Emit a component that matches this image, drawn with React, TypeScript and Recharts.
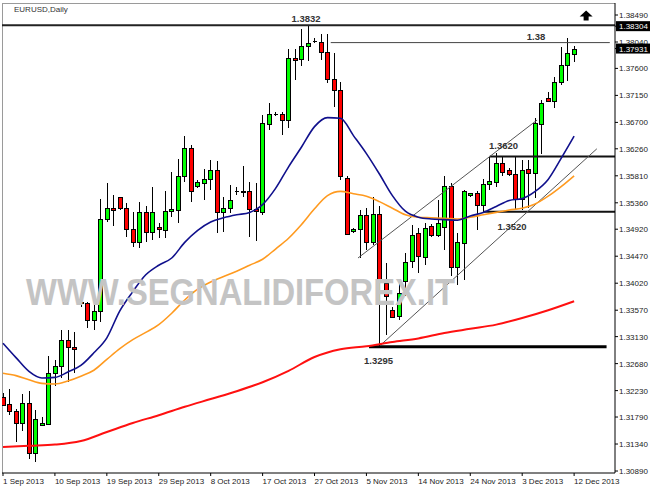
import {
  Bar,
  ComposedChart,
  Line,
  ReferenceDot,
  ReferenceLine,
  XAxis,
  YAxis,
} from 'recharts';

// daily bars, Sunday sessions included (MT4 style)
const dates = [
  '1 Sep 2013', '2 Sep 2013', '3 Sep 2013', '4 Sep 2013', '5 Sep 2013', '6 Sep 2013', '8 Sep 2013', '9 Sep 2013',
  '10 Sep 2013', '11 Sep 2013', '12 Sep 2013', '13 Sep 2013', '15 Sep 2013', '16 Sep 2013', '17 Sep 2013', '18 Sep 2013',
  '19 Sep 2013', '20 Sep 2013', '22 Sep 2013', '23 Sep 2013', '24 Sep 2013', '25 Sep 2013', '26 Sep 2013', '27 Sep 2013',
  '29 Sep 2013', '30 Sep 2013', '1 Oct 2013', '2 Oct 2013', '3 Oct 2013', '4 Oct 2013', '6 Oct 2013', '7 Oct 2013',
  '8 Oct 2013', '9 Oct 2013', '10 Oct 2013', '11 Oct 2013', '13 Oct 2013', '14 Oct 2013', '15 Oct 2013', '16 Oct 2013',
  '17 Oct 2013', '18 Oct 2013', '20 Oct 2013', '21 Oct 2013', '22 Oct 2013', '23 Oct 2013', '24 Oct 2013', '25 Oct 2013',
  '27 Oct 2013', '28 Oct 2013', '29 Oct 2013', '30 Oct 2013', '31 Oct 2013', '1 Nov 2013', '3 Nov 2013', '4 Nov 2013',
  '5 Nov 2013', '6 Nov 2013', '7 Nov 2013', '8 Nov 2013', '10 Nov 2013', '11 Nov 2013', '12 Nov 2013', '13 Nov 2013',
  '14 Nov 2013', '15 Nov 2013', '17 Nov 2013', '18 Nov 2013', '19 Nov 2013', '20 Nov 2013', '21 Nov 2013', '22 Nov 2013',
  '24 Nov 2013', '25 Nov 2013', '26 Nov 2013', '27 Nov 2013', '28 Nov 2013', '29 Nov 2013', '1 Dec 2013', '2 Dec 2013',
  '3 Dec 2013', '4 Dec 2013', '5 Dec 2013', '6 Dec 2013', '8 Dec 2013', '9 Dec 2013', '10 Dec 2013', '11 Dec 2013',
  '12 Dec 2013',
];

const open = [
  1.3213, 1.32, 1.3189, 1.3169, 1.3203, 1.312, 1.3166, 1.3167, 1.3252, 1.3264,
  1.3307, 1.3296, 1.3369, 1.3369, 1.3341, 1.3356, 1.3509, 1.3528, 1.3545, 1.3527,
  1.3492, 1.3471, 1.3521, 1.3487, 1.3495, 1.3491, 1.3521, 1.3524, 1.358, 1.3627,
  1.3563, 1.357, 1.3576, 1.3591, 1.352, 1.3527, 1.3556, 1.3556, 1.3555, 1.3525,
  1.3521, 1.3667, 1.3684, 1.3684, 1.3674, 1.3778, 1.3776, 1.3798, 1.3806, 1.3804,
  1.3787, 1.3742, 1.3724, 1.3578, 1.3488, 1.3492, 1.3516, 1.3471, 1.3517, 1.3402,
  1.3357, 1.3346, 1.3407, 1.3438, 1.3485, 1.3446, 1.3497, 1.3482, 1.3495, 1.3564,
  1.3429, 1.347, 1.3548, 1.3552, 1.3532, 1.3567, 1.3572, 1.3603, 1.3591, 1.3584,
  1.3542, 1.3592, 1.3585, 1.3667, 1.3711, 1.3706, 1.3737, 1.3765, 1.3784,
];

const high = [
  1.3219, 1.3225, 1.3192, 1.3217, 1.3222, 1.319, 1.3179, 1.3281, 1.3274, 1.3324,
  1.3324, 1.3321, 1.3374, 1.3371, 1.337, 1.3542, 1.3569, 1.3549, 1.3546, 1.3536,
  1.352, 1.3537, 1.353, 1.3563, 1.3502, 1.3556, 1.3588, 1.3609, 1.3647, 1.3632,
  1.3574, 1.3592, 1.3607, 1.3605, 1.3546, 1.3566, 1.3563, 1.3597, 1.357, 1.3569,
  1.3682, 1.3703, 1.3688, 1.3688, 1.3792, 1.3792, 1.3825, 1.3832, 1.381, 1.3817,
  1.3817, 1.3785, 1.3738, 1.358, 1.3494, 1.3524, 1.3527, 1.3546, 1.353, 1.3435,
  1.3362, 1.3402, 1.3452, 1.3499, 1.3494, 1.3502, 1.3501, 1.3541, 1.358, 1.3569,
  1.3485, 1.3557, 1.3553, 1.3555, 1.3575, 1.3613, 1.3619, 1.3613, 1.3594, 1.3613,
  1.3607, 1.3607, 1.3677, 1.3707, 1.372, 1.3745, 1.3796, 1.381, 1.3797,
];

const low = [
  1.3197, 1.3182, 1.3138, 1.3155, 1.3109, 1.3104, 1.3164, 1.3166, 1.3231, 1.3244,
  1.3238, 1.3253, 1.3363, 1.3328, 1.3324, 1.3338, 1.3504, 1.3497, 1.3524, 1.3479,
  1.3463, 1.3461, 1.3471, 1.3474, 1.3477, 1.3477, 1.3513, 1.3503, 1.3571, 1.3538,
  1.356, 1.3541, 1.3557, 1.3485, 1.3488, 1.3519, 1.3549, 1.3546, 1.3479, 1.3473,
  1.3516, 1.3657, 1.368, 1.3649, 1.3661, 1.3741, 1.3764, 1.3773, 1.3802, 1.3774,
  1.3736, 1.3695, 1.3574, 1.3482, 1.3486, 1.3444, 1.3457, 1.3466, 1.3295, 1.3316,
  1.3344, 1.3341, 1.338, 1.3427, 1.3419, 1.3432, 1.3479, 1.3479, 1.3457, 1.3414,
  1.3399, 1.3407, 1.3546, 1.3491, 1.3521, 1.3557, 1.3563, 1.358, 1.3581, 1.3524,
  1.3524, 1.3527, 1.3544, 1.3617, 1.3705, 1.3694, 1.3732, 1.3739, 1.3771,
];

const close = [
  1.32, 1.3189, 1.3169, 1.3203, 1.312, 1.3176, 1.3169, 1.3252, 1.3264, 1.3307,
  1.3296, 1.3292, 1.3371, 1.3341, 1.3356, 1.3509, 1.3528, 1.3524, 1.3526, 1.3492,
  1.3471, 1.3521, 1.3487, 1.3521, 1.3492, 1.3522, 1.3525, 1.358, 1.3627, 1.3555,
  1.357, 1.3576, 1.3591, 1.3521, 1.3527, 1.3541, 1.3556, 1.3555, 1.3525, 1.3521,
  1.3669, 1.3684, 1.3684, 1.3674, 1.3778, 1.3774, 1.3798, 1.3803, 1.3806, 1.3787,
  1.3742, 1.3724, 1.358, 1.3485, 1.3492, 1.3516, 1.3471, 1.3517, 1.3407, 1.338,
  1.3346, 1.3385, 1.3438, 1.3482, 1.3446, 1.3494, 1.3482, 1.3502, 1.3564, 1.3429,
  1.347, 1.3556, 1.3552, 1.3532, 1.3567, 1.3572, 1.3603, 1.3588, 1.3584, 1.3542,
  1.3591, 1.3585, 1.3669, 1.3702, 1.3706, 1.3737, 1.3765, 1.3785, 1.3793,
];

// moving averages: [bar index, price]
const blueMA: [number, number][] = [
  [0, 1.3302], [2, 1.3278], [4, 1.3255], [6, 1.3244], [8, 1.3245], [10, 1.3254], [12, 1.3265],
  [14, 1.3286], [16, 1.3311], [18, 1.3356], [20, 1.3388], [22, 1.3416], [24, 1.3432], [26, 1.3444],
  [28, 1.347], [30, 1.349], [32, 1.3504], [34, 1.3511], [36, 1.3516], [38, 1.352], [40, 1.3533],
  [42, 1.356], [44, 1.3596], [46, 1.3629], [48, 1.3663], [50, 1.3678], [52, 1.3677], [54, 1.3648],
  [56, 1.3618], [58, 1.3584], [60, 1.3548], [62, 1.3522], [64, 1.3512], [66, 1.3509], [68, 1.3508],
  [70, 1.3507], [72, 1.3514], [74, 1.352], [76, 1.353], [78, 1.354], [80, 1.3543], [82, 1.3555],
  [84, 1.3575], [86, 1.361], [88, 1.3647],
];

const orangeMA: [number, number][] = [
  [0, 1.3252], [2, 1.3248], [4, 1.3241], [6, 1.3235], [8, 1.3234], [10, 1.3239], [12, 1.3247],
  [14, 1.3257], [16, 1.3275], [18, 1.3293], [20, 1.3308], [22, 1.332], [24, 1.3333], [26, 1.3352],
  [28, 1.3374], [30, 1.3392], [32, 1.3404], [34, 1.3413], [36, 1.3422], [38, 1.3432], [40, 1.3442],
  [42, 1.3459], [44, 1.3477], [46, 1.35], [48, 1.3526], [50, 1.3548], [52, 1.3555], [54, 1.3551],
  [56, 1.3547], [58, 1.3538], [60, 1.3527], [62, 1.3516], [64, 1.3512], [66, 1.3511], [68, 1.351],
  [70, 1.3509], [72, 1.3512], [74, 1.3516], [76, 1.352], [78, 1.3524], [80, 1.3527], [82, 1.3534],
  [84, 1.3547], [86, 1.3563], [88, 1.3581],
];

const redMA: [number, number][] = [
  [0, 1.3129], [4, 1.3131], [8, 1.3133], [12, 1.3139], [16, 1.3154], [20, 1.3169], [24, 1.3182],
  [28, 1.3196], [32, 1.3209], [36, 1.3222], [40, 1.3237], [44, 1.3256], [48, 1.3279], [52, 1.3292],
  [56, 1.3297], [60, 1.3304], [64, 1.331], [68, 1.3319], [72, 1.3326], [76, 1.3333], [80, 1.3344],
  [84, 1.3357], [88, 1.3372],
];

const xTicks = [0, 8, 16, 24, 32, 40, 48, 56, 64, 72, 80, 88];
const yTicks = [
  1.3849, 1.3804, 1.376, 1.3715, 1.367, 1.3626, 1.3581, 1.3536, 1.3492,
  1.3447, 1.3402, 1.3357, 1.3313, 1.3268, 1.3223, 1.3179, 1.3134, 1.3089,
];
const markedPrices = [1.38304, 1.37931];

const pick = (list: [number, number][], i: number) => {
  const hit = list.find((p) => p[0] === i);
  return hit ? hit[1] : null;
};

const rows = dates.map((date, i) => ({
  i,
  date,
  open: open[i],
  high: high[i],
  low: low[i],
  close: close[i],
  blue: pick(blueMA, i),
  orange: pick(orangeMA, i),
  red: pick(redMA, i),
}));

const FONT = '"Liberation Sans", Arial, sans-serif';

function Candle(props: any) {
  const { x, y, width, height, payload } = props;
  if (!payload) return null;
  const { open: o, close: c, high: h, low: l } = payload;
  const cx = Math.round(x + width / 2) + 0.5;
  const k = height / (h - l);
  const yO = y + (h - o) * k;
  const yC = y + (h - c) * k;
  const top = Math.round(Math.min(yO, yC)) + 0.5;
  const bh = Math.round(Math.abs(yC - yO));
  return (
    <g shapeRendering="crispEdges">
      <line x1={cx} x2={cx} y1={y} y2={y + height} stroke="#000" />
      {bh < 1 ? (
        <line x1={cx - 2} x2={cx + 2} y1={top} y2={top} stroke="#000" />
      ) : (
        <rect
          x={cx - 2}
          y={top}
          width={4}
          height={bh}
          fill={c > o ? '#00ff00' : '#ff0000'}
          stroke="#000"
        />
      )}
    </g>
  );
}

function DateTick({ x, y, payload }: any) {
  return (
    <text x={x} y={y + 6} fontSize={8} fill="#222" fontFamily={FONT}>
      {dates[payload.value]}
    </text>
  );
}

function PriceTick({ x, y, payload }: any) {
  const v = payload.value;
  const marked = markedPrices.includes(v);
  return (
    <g>
      {marked && <rect x={616} y={y - 5} width={34} height={10} fill="#000" />}
      <text x={x - 1} y={y + 3} fontSize={8} fill={marked ? '#fff' : '#222'} fontFamily={FONT}>
        {v.toFixed(5)}
      </text>
    </g>
  );
}

const tag = (text: string) => (p: any) => (
  <text
    x={p.cx}
    y={p.cy}
    textAnchor="middle"
    dominantBaseline="central"
    fontSize={9.5}
    fontWeight="bold"
    fill="#333"
    fontFamily={FONT}
  >
    {text}
  </text>
);

const UpArrow = (p: any) => (
  <path
    d={`M${p.cx - 6.5},${p.cy + 1} L${p.cx},${p.cy - 5} L${p.cx + 6.5},${p.cy + 1} L${p.cx + 2.5},${p.cy + 1} L${p.cx + 2.5},${p.cy + 5} L${p.cx - 2.5},${p.cy + 5} L${p.cx - 2.5},${p.cy + 1} Z`}
    fill="#000"
  />
);

export default function App() {
  return (
    <div style={{ position: 'absolute', left: 0, top: 0, width: 650, height: 488, background: '#fff' }}>
      <div
        style={{
          position: 'absolute',
          left: 2,
          top: 3,
          width: 613,
          height: 470,
          borderLeft: '1px solid #9a9a9a',
          borderTop: '1px solid #9a9a9a',
          boxSizing: 'border-box',
        }}
      />
      <div style={{ position: 'absolute', left: 0, top: 0 }}>
        <ComposedChart width={650} height={488} data={rows} margin={{ top: 3, right: 0, bottom: 0, left: 2 }}>
          <XAxis
            dataKey="i"
            type="number"
            domain={[-0.154, 94.3]}
            allowDataOverflow
            ticks={xTicks}
            interval={0}
            height={15}
            tickSize={3}
            tickMargin={2}
            axisLine={{ stroke: '#000' }}
            tickLine={{ stroke: '#000' }}
            tick={<DateTick />}
          />
          <YAxis
            orientation="right"
            type="number"
            domain={[1.30857, 1.3869]}
            allowDataOverflow
            ticks={[...yTicks, ...markedPrices]}
            interval={0}
            width={35}
            tickSize={3}
            tickMargin={2}
            axisLine={{ stroke: '#000' }}
            tickLine={{ stroke: '#000' }}
            tick={<PriceTick />}
          />

          <ReferenceLine y={1.3832} stroke="#222" strokeWidth={2} ifOverflow="visible" />
          <ReferenceLine
            segment={[{ x: 50.5, y: 1.3803 }, { x: 93.5, y: 1.3803 }]}
            stroke="#444"
            strokeWidth={1}
            ifOverflow="visible"
          />
          <ReferenceLine
            segment={[{ x: 75.0, y: 1.3613 }, { x: 94.3, y: 1.3613 }]}
            stroke="#111"
            strokeWidth={2}
            ifOverflow="visible"
          />
          <ReferenceLine
            segment={[{ x: 74.0, y: 1.3521 }, { x: 94.3, y: 1.3521 }]}
            stroke="#111"
            strokeWidth={2}
            ifOverflow="visible"
          />
          <ReferenceLine
            segment={[{ x: 56.4, y: 1.3296 }, { x: 93.0, y: 1.3296 }]}
            stroke="#000"
            strokeWidth={3}
            ifOverflow="visible"
          />
          <ReferenceLine
            segment={[{ x: 54.7, y: 1.3444 }, { x: 82.3, y: 1.3674 }]}
            stroke="#555"
            strokeWidth={1}
            ifOverflow="visible"
          />
          <ReferenceLine
            segment={[{ x: 58.2, y: 1.3299 }, { x: 91.5, y: 1.3626 }]}
            stroke="#555"
            strokeWidth={1}
            ifOverflow="visible"
          />

          <Bar
            dataKey={(d: any) => [d.low, d.high]}
            barSize={4}
            shape={<Candle />}
            isAnimationActive={false}
          />

          <Line type="monotone" dataKey="red" stroke="#ff1010" strokeWidth={2} dot={false} connectNulls isAnimationActive={false} />
          <Line type="monotone" dataKey="orange" stroke="#ff9a1f" strokeWidth={1.6} dot={false} connectNulls isAnimationActive={false} />
          <Line type="monotone" dataKey="blue" stroke="#10108c" strokeWidth={1.6} dot={false} connectNulls isAnimationActive={false} />

          <ReferenceDot x={46.69} y={1.3844} r={0} shape={tag('1.3832')} ifOverflow="visible" />
          <ReferenceDot x={82.13} y={1.3814} r={0} shape={tag('1.38')} ifOverflow="visible" />
          <ReferenceDot x={77.12} y={1.36307} r={0} shape={tag('1.3620')} ifOverflow="visible" />
          <ReferenceDot x={78.43} y={1.34957} r={0} shape={tag('1.3520')} ifOverflow="visible" />
          <ReferenceDot x={57.86} y={1.3274} r={0} shape={tag('1.3295')} ifOverflow="visible" />
          <ReferenceDot x={89.85} y={1.3848} r={0} shape={UpArrow} ifOverflow="visible" />
        </ComposedChart>
      </div>
      <svg
        width={650}
        height={488}
        style={{ position: 'absolute', left: 0, top: 0, pointerEvents: 'none' }}
      >
        <text x={14} y={12} fontSize={8} fill="#333" fontFamily={FONT}>
          EURUSD,Daily
        </text>
        <text
          x={26}
          y={305}
          fontSize={37}
          fontWeight="bold"
          fill="#c4c4c4"
          fontFamily={FONT}
          textLength={429}
          lengthAdjust="spacingAndGlyphs"
        >
          WWW.SEGNALIDIFOREX.IT
        </text>
      </svg>
    </div>
  );
}
